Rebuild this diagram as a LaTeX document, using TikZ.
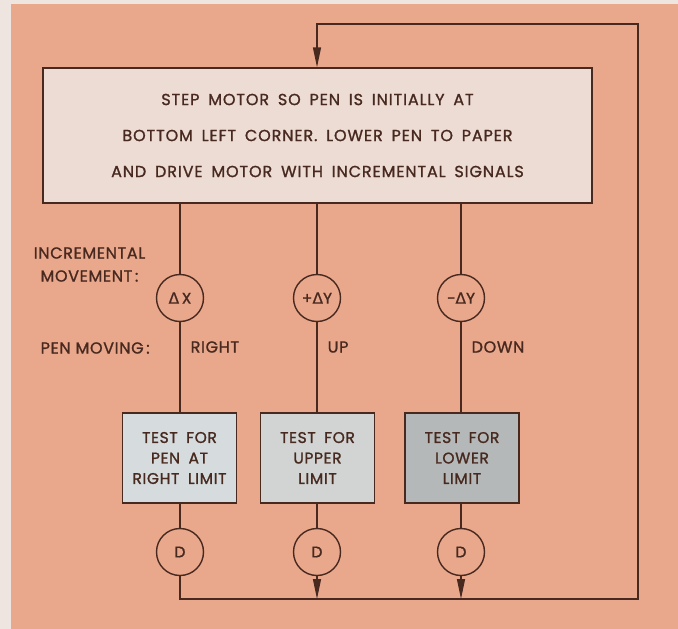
\documentclass[tikz,border=0pt]{standalone}
\usepackage{fontspec}
\setmainfont{Poppins}[LetterSpace=4.0,FakeBold=1.2]
\newfontfamily\wideletters{Poppins}[LetterSpace=5.5,FakeBold=1.2]
\newfontfamily\gfont{DejaVu Sans}[FakeBold=0.6]
\newcommand\widespace{\spaceskip=0.55em\relax}
\usetikzlibrary{positioning,arrows.meta,calc}
\definecolor{ink}{HTML}{48291F}
\definecolor{salmon}{HTML}{E9A88C}
\definecolor{paper}{HTML}{EEE4E0}
\definecolor{mainfill}{HTML}{ECDCD4}
\definecolor{boxa}{HTML}{D6DCDE}
\definecolor{boxb}{HTML}{D1D4D3}
\definecolor{boxc}{HTML}{B5B8B8}

\begin{document}
\begin{tikzpicture}[x=1pt,y=-1pt,line width=1.4pt]
\tikzset{
  tbox/.style={draw=ink,line width=1.4pt,minimum width=114pt,minimum height=90pt,inner sep=0pt,align=center,text=ink,font=\fontsize{15.5}{20.5}\selectfont\widespace},
  sig/.style={circle,draw=ink,line width=1.4pt,minimum size=47pt,inner sep=0pt,text=ink,font=\fontsize{15.5}{16}\selectfont},
  lbl/.style={inner sep=0pt,text=ink,font=\fontsize{16}{23}\selectfont},
  flow/.style={draw=ink,line width=1.4pt},
  tip/.style={-{Triangle[length=20pt,width=8pt]}}
}
\useasboundingbox (0,0) rectangle (678,629);
\fill[paper] (0,0) rectangle (678,629);
\fill[salmon] (11,4) rectangle (678,629);

% main block
\node[draw=ink,fill=mainfill,minimum width=549pt,minimum height=135pt,inner sep=0pt,align=center,text=ink,font=\wideletters\fontsize{16}{36}\selectfont\widespace] (main) at (317.5,135.5)
  {STEP MOTOR SO PEN IS INITIALLY AT\\BOTTOM LEFT CORNER. LOWER PEN TO PAPER\\AND DRIVE MOTOR WITH INCREMENTAL SIGNALS};

% increments
\node[sig] (dx) at (180,298) {{\gfont Δ}\,X};
\node[sig] (up) at (317,298) {+{\gfont Δ}Y};
\node[sig] (dn) at (461,298) {−{\gfont Δ}Y};

\node[lbl,align=center] (incr) at (89.5,264.5) {INCREMENTAL\\MOVEMENT\,:};
\node[lbl,anchor=west] (pm) at (40,348) {PEN MOVING\,:};
\node[lbl,anchor=west] (rt) at (190,347) {RIGHT};
\node[lbl,anchor=west] (ut) at (327,347) {UP};
\node[lbl,anchor=west] (dt) at (471,347) {DOWN};

% tests
\node[tbox,fill=boxa] (t1) at (179.5,458) {TEST FOR\\PEN AT\\RIGHT LIMIT};
\node[tbox,fill=boxb] (t2) at (317.5,458) {TEST FOR\\UPPER\\LIMIT};
\node[tbox,fill=boxc] (t3) at (462,458) {TEST FOR\\LOWER\\LIMIT};

\node[sig] (d1) at (180,552) {D};
\node[sig] (d2) at (317,552) {D};
\node[sig] (d3) at (461,552) {D};

\coordinate (br) at (638,599);
\coordinate (tr) at (638,24);

\draw[flow] (dx |- main.south) -- (dx) -- (dx |- t1.north);
\draw[flow] (up |- main.south) -- (up) -- (up |- t2.north);
\draw[flow] (dn |- main.south) -- (dn) -- (dn |- t3.north);
\draw[flow] (d1 |- t1.south) -- (d1);
\draw[flow] (d2 |- t2.south) -- (d2);
\draw[flow] (d3 |- t3.south) -- (d3);

\draw[flow,tip] (d1) -- (d1 |- br) -- (br) -- (tr) -- (tr -| up) -- (up |- main.north);
\draw[flow,tip] (d2) -- (d2 |- br);
\draw[flow,tip] (d3) -- (d3 |- br);
\end{tikzpicture}
\end{document}
